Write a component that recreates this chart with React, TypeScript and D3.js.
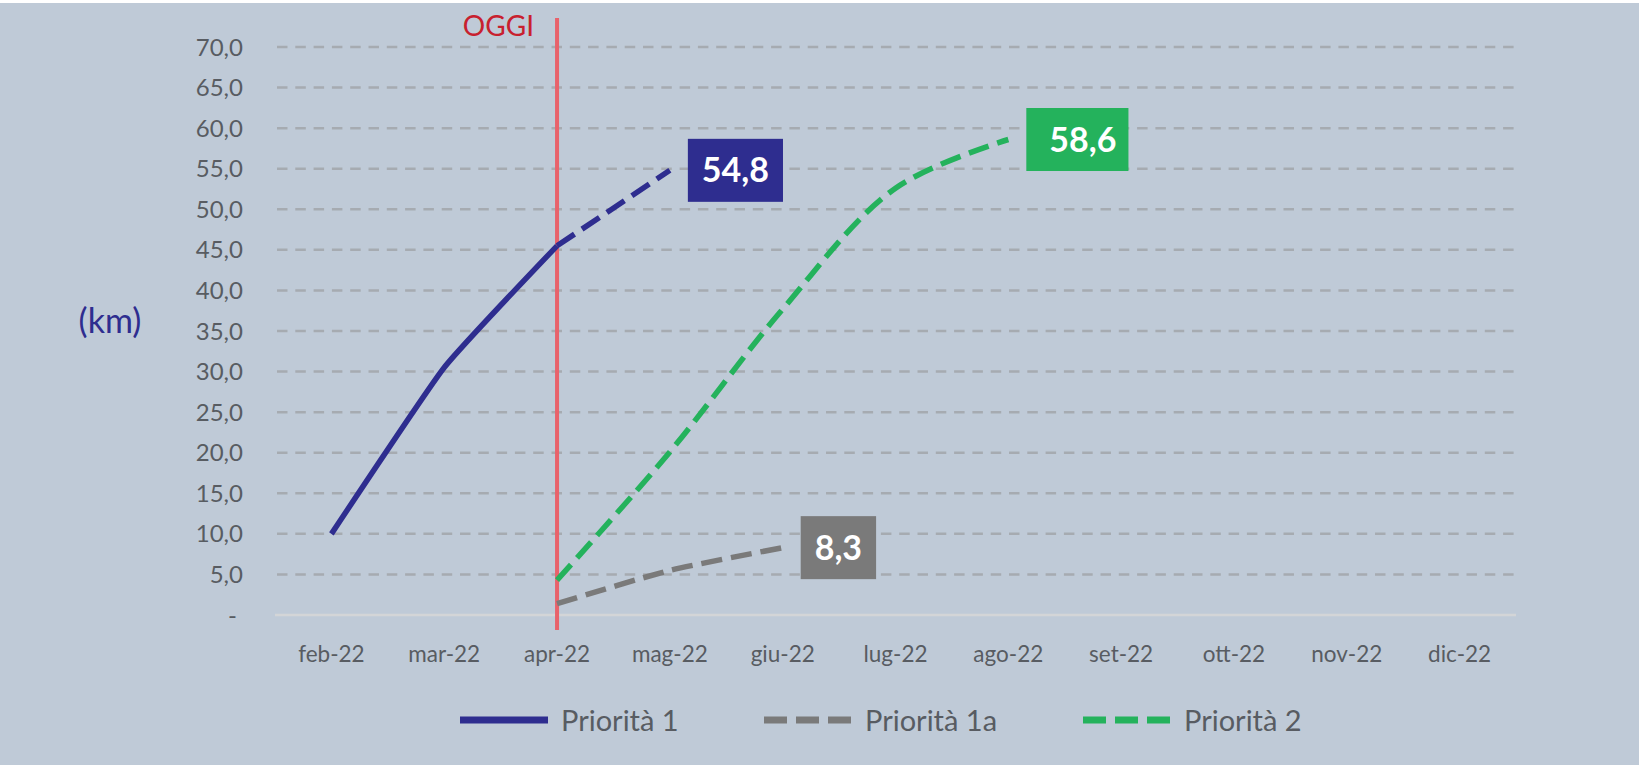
import React, { useEffect, useRef } from 'react';
import * as d3 from 'd3';

// months on the x axis
const months = ['feb-22', 'mar-22', 'apr-22', 'mag-22', 'giu-22', 'lug-22', 'ago-22', 'set-22', 'ott-22', 'nov-22', 'dic-22'];

// y axis ticks (km)
const yTicks = [0, 5, 10, 15, 20, 25, 30, 35, 40, 45, 50, 55, 60, 65, 70];
const yTickLabels = ['-', '5,0', '10,0', '15,0', '20,0', '25,0', '30,0', '35,0', '40,0', '45,0', '50,0', '55,0', '60,0', '65,0', '70,0'];

// series values, null = no value that month
const prior1Actual = [10.0, 30.5, 45.5, null, null, null, null, null, null, null, null];
const prior1Forecast = [null, null, 45.5, 54.8, null, null, null, null, null, null, null];
const prior1a = [null, null, 1.4, 5.5, 8.3, null, null, null, null, null, null];
const prior2 = [null, null, 4.3, 20.1, 37.7, 52.6, 58.6, null, null, null, null];

// final value labels
const endLabelSeries = ['p1', 'p1a', 'p2'];
const endLabelMonths = ['mag-22', 'giu-22', 'ago-22'];
const endLabelValues = [54.8, 8.3, 58.6];

const legendNames = ['Priorità 1', 'Priorità 1a', 'Priorità 2'];
const todayMonth = 'apr-22';
const todayLabel = 'OGGI';
const unitLabel = '(km)';

const COLORS = { p1: '#2E2D8F', p1a: '#7A7A7A', p2: '#24B25C' };
const FONT = 'Lato, "Noto Sans", sans-serif';

const App = () => {
  const svgRef = useRef<SVGSVGElement>(null);

  useEffect(() => {
    document.body.style.margin = '0';
    const width = 1640;
    const height = 765;
    const svg = d3.select(svgRef.current);
    svg.selectAll('*').remove();
    svg.attr('width', width).attr('height', height);

    // background, thin white strip on top like the screenshot
    svg.append('rect').attr('width', width).attr('height', height).attr('fill', '#fff');
    svg.append('rect').attr('x', 0).attr('y', 3).attr('width', width - 1).attr('height', height - 3).attr('fill', '#BFCAD7');

    const x = d3.scalePoint<string>().domain(months).range([275, 1516]).padding(0.5);
    const y = d3.scaleLinear().domain([0, 70]).range([615, 47]);

    // gridlines
    yTicks.forEach((t, i) => {
      if (t === 0) {
        svg.append('line')
          .attr('x1', 275).attr('x2', 1516)
          .attr('y1', y(t)).attr('y2', y(t))
          .attr('stroke', '#D3D5D7').attr('stroke-width', 2.5);
      } else {
        svg.append('line')
          .attr('x1', 277).attr('x2', 1516)
          .attr('y1', y(t)).attr('y2', y(t))
          .attr('stroke', '#A6ABB1').attr('stroke-width', 2.5)
          .attr('stroke-dasharray', '10.5 7.8');
      }
      svg.append('text')
        .attr('x', 243 + (t === 0 ? -6 : 0))
        .attr('y', y(t) + 8.6)
        .attr('text-anchor', 'end')
        .attr('font-family', FONT)
        .attr('font-size', 24)
        .attr('fill', '#585C62')
        .text(yTickLabels[i]);
    });

    // month labels
    months.forEach((m) => {
      svg.append('text')
        .attr('x', x(m))
        .attr('y', 662)
        .attr('text-anchor', 'middle')
        .attr('font-family', FONT)
        .attr('font-size', 22.5)
        .attr('fill', '#585C62')
        .text(m);
    });

    // unit label
    svg.append('text')
      .attr('x', 110).attr('y', 333)
      .attr('text-anchor', 'middle')
      .attr('font-family', FONT)
      .attr('font-size', 34)
      .attr('fill', COLORS.p1)
      .text(unitLabel);

    // "today" marker
    const tx = x(todayMonth);
    svg.append('line')
      .attr('x1', tx).attr('x2', tx)
      .attr('y1', 18).attr('y2', 630)
      .attr('stroke', '#E8626B').attr('stroke-width', 4);
    svg.append('text')
      .attr('x', tx - 23).attr('y', 36)
      .attr('text-anchor', 'end')
      .attr('font-family', FONT)
      .attr('font-size', 28)
      .attr('fill', '#C8202E')
      .text(todayLabel);

    const makeLine = (curve) => d3.line<number | null>()
      .defined((d) => d != null)
      .x((d, i) => x(months[i]))
      .y((d) => y(d as number))
      .curve(curve);

    const drawSeries = (data, color, dash, curve) => {
      const p = svg.append('path')
        .datum(data)
        .attr('fill', 'none')
        .attr('stroke', color)
        .attr('stroke-width', 5.5)
        .attr('d', makeLine(curve));
      if (dash) p.attr('stroke-dasharray', dash);
    };

    drawSeries(prior1a, COLORS.p1a, '21 9', d3.curveCardinal.tension(0.4));
    drawSeries(prior2, COLORS.p2, '21 9', d3.curveCatmullRom.alpha(0.5));
    drawSeries(prior1Actual, COLORS.p1, null, d3.curveCardinal.tension(0.6));
    drawSeries(prior1Forecast, COLORS.p1, '21 9', d3.curveCardinal.tension(0.6));

    // value boxes at the end of each series
    const pads = { p1: [14, 14], p1a: [14, 14], p2: [23, 12] };
    endLabelSeries.forEach((s, i) => {
      const px = x(endLabelMonths[i]) + 18;
      const py = y(endLabelValues[i]);
      const g = svg.append('g');
      const rect = g.append('rect').attr('fill', COLORS[s]);
      const txt = g.append('text')
        .attr('x', px + pads[s][0])
        .attr('y', py + 12)
        .attr('font-family', FONT)
        .attr('font-size', 34)
        .attr('font-weight', 'bold')
        .attr('fill', '#fff')
        .text(d3.format('.1f')(endLabelValues[i]).replace('.', ','));
      const w = (txt.node() as SVGTextElement).getComputedTextLength();
      rect.attr('x', px).attr('y', py - 31.5)
        .attr('width', w + pads[s][0] + pads[s][1]).attr('height', 63);
    });

    // legend
    const legendY = 720;
    const legendX = [460, 764, 1083];
    const legendStyle = [null, '23 9', '23 9'];
    const legendColors = [COLORS.p1, COLORS.p1a, COLORS.p2];
    legendNames.forEach((name, i) => {
      const l = svg.append('line')
        .attr('x1', legendX[i]).attr('x2', legendX[i] + 88)
        .attr('y1', legendY).attr('y2', legendY)
        .attr('stroke', legendColors[i]).attr('stroke-width', 7);
      if (legendStyle[i]) l.attr('stroke-dasharray', legendStyle[i]);
      svg.append('text')
        .attr('x', legendX[i] + 101)
        .attr('y', legendY + 10.5)
        .attr('font-family', FONT)
        .attr('font-size', 29)
        .attr('fill', '#585C62')
        .text(name);
    });
  }, []);

  return <svg ref={svgRef} style={{ display: 'block' }} />;
};

export default App;
